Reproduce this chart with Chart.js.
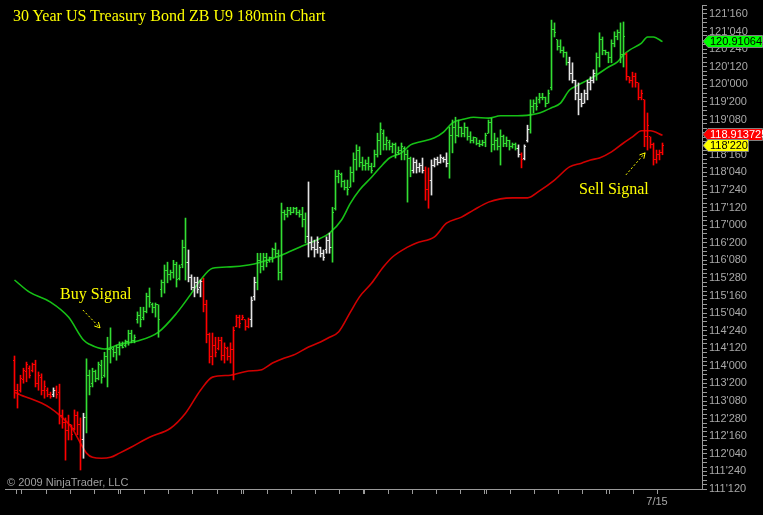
<!DOCTYPE html>
<html>
<head>
<meta charset="utf-8">
<script src="https://cdn.jsdelivr.net/npm/chart.js@4.4.0/dist/chart.umd.min.js"></script>
<style>
  html, body { margin: 0; padding: 0; background: #000; }
  #wrap { position: relative; width: 763px; height: 515px; overflow: hidden; background: #000; }
  canvas { display: block; }
  .note { position: absolute; font-family: "Liberation Serif", "Times New Roman", serif; font-size: 16px; line-height: 16px; color: #ffff00; white-space: nowrap; }
  #copy { position: absolute; left: 7px; top: 477px; font-family: "Liberation Sans", Arial, sans-serif; font-size: 11px; line-height: 11px; color: #a0a0a0; white-space: nowrap; }
</style>
</head>
<body>
<div id="wrap">
  <canvas id="zbChart" width="763" height="515"></canvas>
  <div class="note" style="left:13px;top:8px">30 Year US Treasury Bond ZB U9 180min Chart</div>
  <div class="note" style="left:60px;top:286px">Buy Signal</div>
  <div class="note" style="left:579px;top:181px">Sell Signal</div>
  <div id="copy">© 2009 NinjaTrader, LLC</div>
</div>
<script>
// 180 minute bars, one entry per bar (price in points)
const highs = [
  114.21,113.61,113.80,113.95,114.08,114.00,114.06,114.12,113.87,113.83,
  113.68,113.53,113.44,113.53,113.57,113.61,113.06,112.89,112.95,112.74,
  113.06,113.02,112.89,112.99,114.15,113.91,113.95,113.91,114.08,114.12,
  114.29,114.61,114.81,114.40,114.44,114.51,114.51,114.55,114.76,114.76,
  114.66,115.15,115.25,115.25,115.55,115.66,115.34,115.34,115.30,115.83,
  116.15,116.21,116.04,116.25,116.21,116.15,116.68,117.15,116.47,115.94,
  115.89,115.89,115.83,115.87,115.40,114.70,114.70,114.61,114.61,114.61,
  114.49,114.40,114.49,114.83,115.08,115.08,115.08,114.98,115.02,115.47,
  115.89,116.40,116.40,116.40,116.40,116.32,116.51,116.62,116.47,117.47,
  117.32,117.38,117.38,117.38,117.38,117.32,117.38,117.26,117.92,116.75,
  116.68,116.75,116.53,116.47,116.75,116.83,117.38,118.17,118.17,118.11,
  117.96,117.96,118.24,118.54,118.71,118.67,118.45,118.39,118.45,118.32,
  118.60,118.96,119.18,119.03,118.88,118.81,118.75,118.75,118.67,118.75,
  118.67,118.60,118.45,118.43,118.39,118.32,118.43,118.24,118.22,118.39,
  118.43,118.45,118.50,118.45,118.54,119.09,119.24,119.30,119.24,119.09,
  119.18,119.09,118.99,118.88,118.86,118.81,118.81,118.96,119.24,119.28,
  118.96,118.86,119.03,118.92,118.88,118.81,118.75,118.75,118.71,118.54,
  118.71,119.13,119.67,119.67,119.73,119.81,119.81,119.73,119.88,121.37,
  121.31,120.95,120.95,120.80,120.69,120.58,120.46,120.09,120.03,119.81,
  119.88,120.09,120.16,120.31,120.67,121.10,121.01,120.73,120.69,120.95,
  121.12,121.16,121.31,121.33,120.67,120.16,120.26,120.24,120.03,119.88,
  119.67,119.39,118.88,118.75,118.60,118.60,118.75
];
const lows = [
  113.31,113.10,113.44,113.63,113.66,113.74,113.87,113.55,113.48,113.38,
  113.31,113.34,113.31,113.34,113.31,112.76,112.67,111.99,112.42,112.42,
  112.63,112.53,111.78,112.03,112.57,113.38,113.55,113.66,113.70,113.63,
  113.76,113.55,114.06,114.19,114.12,114.23,114.38,114.40,114.44,114.49,
  114.49,114.91,114.83,114.98,115.13,115.25,115.13,115.04,114.61,115.47,
  115.55,115.77,115.83,115.87,115.68,115.83,116.09,115.83,115.79,115.62,
  115.47,115.55,115.47,115.15,114.49,114.06,114.02,114.19,114.34,114.12,
  114.06,114.12,114.06,113.70,114.83,114.81,114.98,114.76,114.81,114.83,
  115.40,115.62,115.98,116.04,116.11,116.21,116.21,116.32,115.83,115.83,
  117.11,117.17,117.22,117.26,117.22,117.17,116.96,116.62,116.32,116.47,
  116.32,116.40,116.32,116.25,116.40,116.40,116.21,117.32,117.90,117.81,
  117.75,117.64,117.81,117.92,118.17,118.24,118.17,118.17,118.17,118.11,
  118.24,118.45,118.50,118.60,118.60,118.60,118.54,118.43,118.50,118.39,
  118.39,117.49,118.03,118.11,118.11,118.13,118.11,117.53,117.36,117.64,
  118.24,118.28,118.32,118.34,118.24,118.00,118.54,118.75,118.88,118.88,
  118.88,118.81,118.75,118.75,118.71,118.67,118.69,118.67,118.96,118.56,
  118.60,118.60,118.28,118.67,118.67,118.60,118.64,118.60,118.45,118.22,
  118.39,118.77,118.96,119.39,119.45,119.60,119.67,119.52,119.60,119.88,
  121.01,120.73,120.67,120.58,120.41,120.09,120.03,119.67,119.35,119.52,
  119.60,119.67,119.88,120.03,120.09,120.37,120.63,120.63,120.46,120.46,
  120.80,120.95,120.46,120.37,120.09,120.03,119.94,119.94,119.67,119.67,
  118.67,118.60,118.64,118.28,118.32,118.39,118.50
];
const opens = [
  114.12,113.48,113.48,113.70,113.87,113.95,113.91,114.02,113.63,113.76,
  113.48,113.48,113.38,113.38,113.48,113.44,112.95,112.80,112.63,112.74,
  112.67,112.95,112.74,112.42,112.89,113.80,113.63,113.87,113.74,114.00,
  113.80,114.19,114.34,114.34,114.29,114.40,114.44,114.44,114.51,114.70,
  114.55,114.98,115.08,115.02,115.15,115.47,115.30,115.25,115.30,115.62,
  115.77,116.04,115.94,115.98,116.15,115.87,116.15,116.53,116.21,115.89,
  115.68,115.77,115.66,115.79,115.30,114.66,114.19,114.44,114.38,114.55,
  114.23,114.38,114.19,114.34,114.83,115.02,114.98,114.98,114.83,114.98,
  115.47,115.77,116.25,116.11,116.32,116.25,116.32,116.47,116.40,115.98,
  117.26,117.22,117.32,117.26,117.36,117.26,117.22,117.11,116.75,116.62,
  116.53,116.47,116.53,116.40,116.47,116.68,116.53,117.36,118.03,118.07,
  117.92,117.81,117.81,118.13,118.39,118.60,118.34,118.28,118.32,118.24,
  118.24,118.50,118.81,118.96,118.71,118.77,118.67,118.71,118.54,118.60,
  118.64,118.50,118.43,118.17,118.34,118.22,118.28,118.17,117.75,117.96,
  118.28,118.39,118.34,118.43,118.39,118.32,118.92,119.09,118.92,119.09,
  118.96,119.09,118.88,118.81,118.86,118.75,118.71,118.77,118.96,119.18,
  118.71,118.81,118.67,118.88,118.75,118.81,118.67,118.71,118.64,118.50,
  118.43,118.81,119.03,119.52,119.60,119.67,119.73,119.73,119.60,119.94,
  121.16,120.95,120.80,120.73,120.67,120.46,120.24,120.09,119.81,119.67,
  119.60,119.81,120.03,120.09,120.24,120.58,120.95,120.73,120.67,120.58,
  120.88,121.01,121.10,120.63,120.63,120.16,120.09,120.16,120.03,119.73,
  119.67,118.88,118.88,118.71,118.39,118.50,118.54
];
const closes = [
  113.48,113.38,113.74,113.91,114.02,113.80,114.02,113.63,113.80,113.48,
  113.57,113.38,113.34,113.48,113.38,112.95,112.80,112.63,112.74,112.53,
  112.95,112.74,112.42,112.89,113.80,113.55,113.87,113.74,114.02,113.76,
  114.19,114.34,114.38,114.29,114.40,114.44,114.40,114.51,114.70,114.55,
  114.61,115.08,114.98,115.15,115.47,115.34,115.25,115.30,114.98,115.77,
  116.04,115.94,115.98,116.15,115.83,116.09,116.53,116.21,115.89,115.68,
  115.77,115.62,115.79,115.30,114.66,114.19,114.44,114.29,114.55,114.23,
  114.40,114.19,114.34,114.76,115.02,114.91,115.04,114.83,114.98,115.40,
  115.77,116.25,116.11,116.32,116.21,116.32,116.47,116.40,115.98,117.26,
  117.22,117.32,117.26,117.36,117.26,117.22,117.11,116.75,116.62,116.53,
  116.47,116.62,116.40,116.32,116.68,116.53,117.26,118.03,118.11,117.92,
  117.81,117.75,118.13,118.39,118.60,118.34,118.28,118.32,118.24,118.17,
  118.50,118.81,119.03,118.71,118.81,118.67,118.71,118.50,118.60,118.67,
  118.50,118.43,118.17,118.34,118.22,118.28,118.17,117.75,117.96,118.28,
  118.39,118.34,118.45,118.39,118.32,118.92,119.09,118.92,119.09,118.96,
  119.09,118.88,118.81,118.86,118.75,118.71,118.77,118.92,119.18,118.71,
  118.81,118.67,118.88,118.75,118.81,118.67,118.71,118.64,118.50,118.39,
  118.67,119.03,119.52,119.60,119.52,119.73,119.73,119.60,119.81,121.16,
  121.10,120.80,120.73,120.67,120.46,120.24,120.09,119.81,119.67,119.60,
  119.81,120.03,120.09,120.24,120.58,120.95,120.73,120.67,120.58,120.88,
  121.01,121.10,120.63,121.01,120.16,120.09,120.16,120.03,119.73,119.81,
  118.88,119.13,118.71,118.39,118.50,118.54,118.6875
];
// bar colour state: g = above, w = neutral, r = below
const barState = (
  'rrrrrrrrrr' + 'rrrwrrrrrr' + 'rrrwgggggg' + 'gggggggggg' + 'gggggggggg' +
  'ggggggggww' + 'wwwrrrrrrr' + 'rrrrrrrrrw' + 'wggggggggg' + 'ggggggggww' +
  'wwwwwwgggg' + 'gggggggggg' + 'gggggggggg' + 'gggwwwwrrw' + 'wwwwwggggg' +
  'gggggggggg' + 'ggggggggwr' + 'wwgggggggg' + 'gggggwwwww' + 'wwwwgggggg' +
  'ggggrrrrrr' + 'rrrrrrr'
).split('');

// moving averages, read at sample bars
const fastMaBar = [0,5,12,18,23,25,30,35,41,48,54,59,62,66,72,78,82,89,95,102,105,109,112,115,119,122,125,129,132,135,140,143,146,150,153,158,162,166,172,175,179,182,185,188,191,194,198,201,203,205,209,211,213,216];
const fastMaVal = [115.83,115.57,115.36,115.04,114.55,114.46,114.36,114.46,114.53,114.72,115.12,115.55,115.83,116.08,116.11,116.15,116.21,116.36,116.53,116.72,116.83,117.11,117.47,117.75,118.02,118.24,118.43,118.54,118.71,118.77,118.86,118.98,119.18,119.26,119.30,119.28,119.33,119.33,119.35,119.39,119.50,119.60,119.88,119.99,120.09,120.20,120.37,120.48,120.63,120.73,120.88,121.01,121.01,120.910641];
const slowMaBar = [0,2,5,9,12,15,19,22,24,26,29,32,35,39,45,52,57,62,66,72,78,82,86,90,93,98,102,105,108,112,115,119,123,126,131,134,140,144,149,153,158,162,166,171,175,180,185,189,192,195,199,203,206,209,212,216];
const slowMaVal = [113.44,113.38,113.31,113.21,113.10,112.95,112.69,112.35,112.14,112.05,112.03,112.05,112.14,112.27,112.48,112.67,112.99,113.48,113.76,113.80,113.89,113.91,114.06,114.17,114.23,114.40,114.51,114.61,114.72,115.15,115.47,115.76,116.11,116.32,116.53,116.62,116.75,117.04,117.17,117.32,117.49,117.56,117.58,117.58,117.73,117.96,118.24,118.32,118.39,118.43,118.56,118.75,118.88,119.01,119.01,118.913725];

// price axis labels (32nds)
const yTickLabels = ["111'120","111'240","112'040","112'160","112'280","113'080","113'200","114'000","114'120","114'240","115'040","115'160","115'280","116'080","116'200","117'000","117'120","117'240","118'040","118'160","118'280","119'080","119'200","120'000","120'120","120'240","121'040","121'160"];
// session boundaries (bar units) and their date labels
const sessionTicks = [0.5,2.17,10.5,18.5,26.5,34.5,35.17,43.17,51.17,59.17,67.5,75.5,76.17,84.17,92.17,100.17,108.17,116.17,116.83,124.83,132.83,140.83,148.83,156.83,157.5,165.5,173.5,181.5,189.5,197.5,198.17,206.17,214.17];
const sessionLabels = sessionTicks.map((t, i) => i === sessionTicks.length - 1 ? '7/15' : '');

// annotation arrows (bar, price)
const buyArrow = { from: [22.8, 115.19], to: [28.5, 114.81] };
const sellArrow = { from: [203.8, 118.07], to: [210.2, 118.54] };

const stateColor = { g: '#33dd33', w: '#e4e4e4', r: '#ff0000' };

function parse32(s) {
  const [whole, frac] = s.split("'");
  return Number(whole) + Number(frac) / 320;
}
function fmt32(v) {
  const whole = Math.floor(v);
  const frac = Math.round((v - whole) * 320);
  return whole + "'" + String(frac).padStart(3, '0');
}

const yLabelValues = yTickLabels.map(parse32);
const yTicks = [];
for (let v = yLabelValues[0]; v <= 121.69; v += 3 / 32) yTicks.push(v);

// one pixel open tick on the left, close tick on the right
function tickImage(color, side) {
  const c = document.createElement('canvas');
  c.width = 3; c.height = 1;
  const g = c.getContext('2d');
  g.fillStyle = color;
  g.fillRect(side === 'open' ? 0 : 2, 0, 1, 1);
  return c;
}
const openImg = {}, closeImg = {};
Object.keys(stateColor).forEach(k => {
  openImg[k] = tickImage(stateColor[k], 'open');
  closeImg[k] = tickImage(stateColor[k], 'close');
});

const overlay = {
  id: 'overlay',
  afterDatasetsDraw(chart) {
    const { ctx, scales: { x, y } } = chart;
    [buyArrow, sellArrow].forEach(a => {
      const x0 = x.getPixelForValue(a.from[0]), y0 = y.getPixelForValue(a.from[1]);
      const x1 = x.getPixelForValue(a.to[0]), y1 = y.getPixelForValue(a.to[1]);
      const ang = Math.atan2(y1 - y0, x1 - x0);
      ctx.save();
      ctx.strokeStyle = '#ffff00';
      ctx.lineWidth = 1;
      ctx.setLineDash([2, 2]);
      ctx.beginPath(); ctx.moveTo(x0, y0); ctx.lineTo(x1, y1); ctx.stroke();
      ctx.setLineDash([]);
      ctx.beginPath();
      ctx.moveTo(x1 - 6 * Math.cos(ang - 0.5), y1 - 6 * Math.sin(ang - 0.5));
      ctx.lineTo(x1, y1);
      ctx.lineTo(x1 - 6 * Math.cos(ang + 0.5), y1 - 6 * Math.sin(ang + 0.5));
      ctx.stroke();
      ctx.restore();
    });
  },
  afterDraw(chart) {
    const { ctx, scales: { y } } = chart;
    const last = closes.length - 1;
    const markers = [
      { v: fastMaVal[fastMaVal.length - 1], text: String(fastMaVal[fastMaVal.length - 1]), bg: '#00ff00', fg: '#000', right: 763 },
      { v: slowMaVal[slowMaVal.length - 1], text: String(slowMaVal[slowMaVal.length - 1]), bg: '#ff0000', fg: '#fff', right: 763 },
      { v: closes[last], text: fmt32(closes[last]), bg: '#ffff00', fg: '#000', right: 749 }
    ];
    ctx.save();
    markers.forEach(m => {
      const yc = Math.round(y.getPixelForValue(m.v)) - 1;
      ctx.beginPath();
      ctx.moveTo(703, yc + 0.5);
      ctx.lineTo(708, yc - 5.5);
      ctx.lineTo(m.right - 0.5, yc - 5.5);
      ctx.lineTo(m.right - 0.5, yc + 6.5);
      ctx.lineTo(708, yc + 6.5);
      ctx.closePath();
      ctx.fillStyle = m.bg;
      ctx.fill();
      ctx.strokeStyle = '#808080';
      ctx.lineWidth = 1;
      ctx.stroke();
      ctx.fillStyle = m.fg;
      ctx.font = '11px "Liberation Sans", Arial, sans-serif';
      ctx.textBaseline = 'middle';
      ctx.textAlign = 'left';
      ctx.fillText(m.text, 710, yc + 1);
    });
    ctx.restore();
  }
};

Chart.defaults.font.family = '"Liberation Sans", Arial, sans-serif';

new Chart(document.getElementById('zbChart').getContext('2d'), {
  type: 'bar',
  data: {
    datasets: [
      {
        type: 'bar',
        data: highs.map((h, i) => ({ x: i, y: [lows[i], h] })),
        backgroundColor: barState.map(s => stateColor[s]),
        barThickness: 1,
        borderWidth: 0,
        order: 0
      },
      {
        type: 'line',
        data: opens.map((o, i) => ({ x: i, y: o })),
        showLine: false,
        pointRadius: 1,
        pointStyle: ctx => openImg[barState[ctx.dataIndex]],
        order: 0
      },
      {
        type: 'line',
        data: closes.map((c, i) => ({ x: i, y: c })),
        showLine: false,
        pointRadius: 1,
        pointStyle: ctx => closeImg[barState[ctx.dataIndex]],
        order: 0
      },
      {
        type: 'line',
        data: fastMaBar.map((b, k) => ({ x: b, y: fastMaVal[k] })),
        borderColor: '#16c016',
        borderWidth: 1.6,
        pointRadius: 0,
        cubicInterpolationMode: 'monotone',
        order: 1
      },
      {
        type: 'line',
        data: slowMaBar.map((b, k) => ({ x: b, y: slowMaVal[k] })),
        borderColor: '#d00000',
        borderWidth: 1.6,
        pointRadius: 0,
        cubicInterpolationMode: 'monotone',
        order: 1
      }
    ]
  },
  options: {
    responsive: false,
    animation: false,
    events: [],
    layout: { padding: { left: 5, top: 5, right: 0, bottom: 0 } },
    plugins: { legend: { display: false }, tooltip: { enabled: false } },
    scales: {
      x: {
        type: 'linear',
        position: 'bottom',
        min: -3.1667,
        max: 229.1667,
        offset: false,
        afterBuildTicks: s => { s.ticks = sessionTicks.map(v => ({ value: v })); },
        afterFit: s => { s.height = 26; s.paddingLeft = 0; s.paddingRight = 0; },
        grid: { drawOnChartArea: false, offset: false, color: '#9a9a9a', tickLength: 5 },
        border: { color: '#9a9a9a' },
        ticks: {
          autoSkip: false, maxRotation: 0, padding: 1, color: '#a8a8a8',
          font: { size: 11 },
          callback: (v, i) => sessionLabels[i]
        }
      },
      y: {
        type: 'linear',
        position: 'right',
        min: 111.375,
        max: 121.6918,
        afterBuildTicks: s => { s.ticks = yTicks.map(v => ({ value: v })); },
        afterFit: s => { s.width = 61; s.paddingTop = 0; s.paddingBottom = 0; },
        grid: { drawOnChartArea: false, color: '#9a9a9a', tickLength: 5 },
        border: { color: '#9a9a9a' },
        ticks: {
          autoSkip: false, padding: 2, color: '#a8a8a8',
          font: { size: 11 },
          callback: v => {
            const k = yLabelValues.findIndex(t => Math.abs(t - v) < 1e-6);
            return k >= 0 ? yTickLabels[k] : '';
          }
        }
      }
    }
  },
  plugins: [overlay]
});
</script>
</body>
</html>
